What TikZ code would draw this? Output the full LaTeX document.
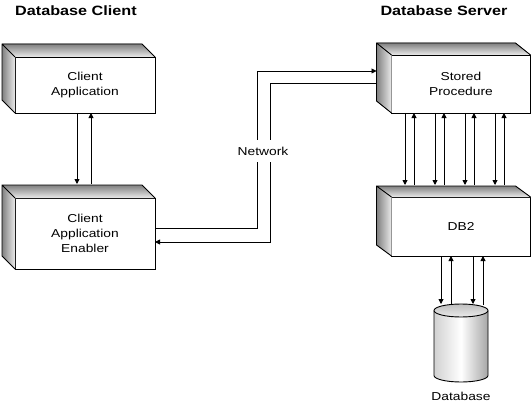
\documentclass[tikz,border=0pt]{standalone}
\usepackage{fontspec}
\setmainfont{Liberation Sans}[FakeStretch=1.2]
\usetikzlibrary{arrows.meta}
\newcommand\slab[3]{%
  \fill[left color=black!50,right color=black!8] ([shift={(-#2,-#3)}]#1.north west) -- (#1.north west) -- (#1.south west) -- ([shift={(-#2,-#3)}]#1.south west) -- cycle;
  \fill[top color=black!50,bottom color=black!8] ([shift={(-#2,-#3)}]#1.north west) -- ([shift={(-#2,-#3)}]#1.north east) -- (#1.north east) -- (#1.north west) -- cycle;
  \draw[line] ([shift={(-#2,-#3)}]#1.south west) -- ([shift={(-#2,-#3)}]#1.north west) -- ([shift={(-#2,-#3)}]#1.north east) -- (#1.north east)
    (#1.north west) -- ([shift={(-#2,-#3)}]#1.north west)
    ([shift={(-#2,-#3)}]#1.south west) -- (#1.south west);
}
\tikzset{
  line/.style={line width=0.9pt},
  front/.style={draw, line width=0.9pt, fill=white, outer sep=0pt, align=center,
    font=\fontsize{11.5}{15}\selectfont},
  arr/.style={line width=0.9pt, -{Triangle[width=5pt,length=5pt]}},
  title/.style={font=\fontsize{13.5}{16}\selectfont\bfseries, inner sep=0pt},
  lbl/.style={font=\fontsize{11.5}{15}\selectfont, inner sep=0pt}
}
\begin{document}
\begin{tikzpicture}[x=1pt,y=-1pt]
\useasboundingbox (0,0) rectangle (532,401);

\node[title] (tc) at (76,11) {Database Client};
\node[title] (ts) at (444,11) {Database Server};

\node[front, minimum width=140pt, minimum height=56pt] (ca) at (85,85) {Client\\Application};
\slab{ca}{13}{13}
\node[front, minimum width=140pt, minimum height=71pt] (cae) at (85,233.5) {Client\\Application\\Enabler};
\slab{cae}{13}{13}
\node[front, minimum width=139pt, minimum height=58pt] (sp) at (461,84) {Stored\\Procedure};
\slab{sp}{15}{12}
\node[front, minimum width=139pt, minimum height=59pt] (db2) at (461,226.5) {DB2};
\slab{db2}{15}{11}

% database cylinder
\node[minimum width=54pt, minimum height=78pt, inner sep=0pt, outer sep=0pt] (db) at (461,343) {};
\shade[left color=black!18, right color=black!35, middle color=white]
  (434,310.5) -- (434,375.5) arc[start angle=180,end angle=360,x radius=27pt,y radius=6.5pt] -- (488,310.5) -- cycle;
\draw[line] (434,310.5) -- (434,375.5) arc[start angle=180,end angle=360,x radius=27pt,y radius=6.5pt] -- (488,310.5);
\shade[top color=black!25, bottom color=black!8] (461,310.5) ellipse[x radius=27pt, y radius=6.5pt];
\draw[line] (461,310.5) ellipse[x radius=27pt, y radius=6.5pt];
\node[lbl] (dbl) at (461,396) {Database};

% client arrows
\draw[arr] ([shift={(-8,0)}]ca.south) -- ([shift={(-8,-14)}]cae.north);
\draw[arr] ([shift={(6,-14)}]cae.north) -- ([shift={(6,0)}]ca.south);

% server arrows
\foreach \o in {-56,-26,4,34}
  \draw[arr] ([shift={(\o,0)}]sp.south) -- ([shift={(\o,-12)}]db2.north);
\foreach \o in {-47,-17,13,43}
  \draw[arr] ([shift={(\o,-12)}]db2.north) -- ([shift={(\o,0)}]sp.south);

% DB2 to database
\foreach \o in {-20,12}
  \draw[arr] ([shift={(\o,0)}]db2.south) -- ([shift={(\o,0)}]db.north);
\foreach \o in {-10,22}
  \draw[arr] ([shift={(\o,1)}]db.north) -- ([shift={(\o,0)}]db2.south);

% network
\coordinate (n1) at (257,71);
\coordinate (n2) at (270,242);
\draw[arr] ([shift={(0,-5.5)}]cae.east) -| (n1) -- ([shift={(-15,-13)}]sp.west);
\draw[arr] ([shift={(-15,-1)}]sp.west) -| (n2) -- ([shift={(0,8.5)}]cae.east);
\node[lbl, fill=white, minimum height=22pt, inner xsep=2pt] (net) at (263,151) {Network};
\end{tikzpicture}
\end{document}
